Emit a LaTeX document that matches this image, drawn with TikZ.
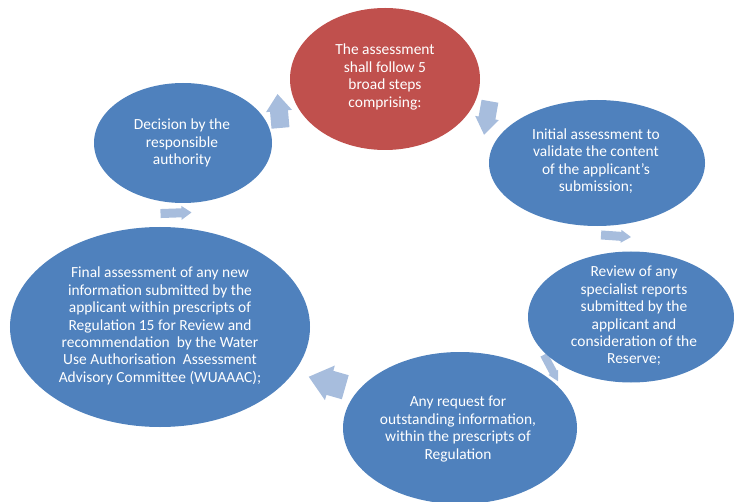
\documentclass[tikz,border=0pt]{standalone}
\usepackage{fontspec}
\setmainfont{Carlito}
\usetikzlibrary{shapes.geometric}

\definecolor{stepblue}{HTML}{4F81BD}
\definecolor{stepred}{HTML}{C0504D}
\definecolor{arrowblue}{HTML}{A7BDDD}

\tikzset{
  stage/.style={ellipse, fill=stepblue, draw=none, inner sep=0pt},
  leadstage/.style={stage, fill=stepred},
  stagetext/.style={text=white, align=center, inner sep=0pt,
    font=\fontsize{15.5}{17.5}\selectfont},
  flowarrow/.style={fill=arrowblue, draw=none},
}

% block arrow: centre, angle, length, head length, head width, shaft width
\newcommand\cyclearrow[6]{%
  \fill[flowarrow, shift={#1}, rotate=#2]
    ({-#3/2},{-#6/2}) -- ({#3/2-#4},{-#6/2}) -- ({#3/2-#4},{-#5/2})
    -- ({#3/2},0) -- ({#3/2-#4},{#5/2}) -- ({#3/2-#4},{#6/2})
    -- ({-#3/2},{#6/2}) -- cycle;}

\begin{document}
\begin{tikzpicture}[x=1bp, y=-1bp]
  \useasboundingbox (0,0) rectangle (734,502);
  \clip (0,0) rectangle (734,502);

  % arrow positions along the cycle
  \coordinate (a1) at (279,111);
  \coordinate (a2) at (487,118);
  \coordinate (a3) at (616,236);
  \coordinate (a4) at (551,368);
  \coordinate (a5) at (327,382);
  \coordinate (a6) at (176,213);

  \cyclearrow{(a1)}{95}{34}{17}{26}{18}
  \cyclearrow{(a2)}{-100}{34}{17}{24}{17}
  \cyclearrow{(a3)}{-4}{30}{10}{13}{9}
  \cyclearrow{(a4)}{-62}{30}{10}{11}{8}
  \cyclearrow{(a5)}{164}{38}{22}{36}{25}
  \cyclearrow{(a6)}{2}{31}{10}{14}{9}

  % the six stages
  \node[leadstage, minimum width=190bp, minimum height=142bp] (assess) at (385,79) {};
  \node[stage, minimum width=216bp, minimum height=126bp] (initial) at (597,163) {};
  \node[stage, minimum width=206bp, minimum height=131bp] (review) at (631,317) {};
  \node[stage, minimum width=234bp, minimum height=152bp] (request) at (460,428) {};
  \node[stage, minimum width=300bp, minimum height=200bp] (final) at (160,327) {};
  \node[stage, minimum width=178bp, minimum height=120bp] (decision) at (183,143) {};

  % stage texts
  \node[stagetext] (assess-t) at (385,77) {The assessment\\shall follow 5\\broad steps\\comprising:};
  \node[stagetext] (initial-t) at (596,161) {Initial assessment to\\validate the content\\of the applicant’s\\submission;};
  \node[stagetext] (review-t) at (634,316) {Review of any\\specialist reports\\submitted by the\\applicant and\\consideration of the\\Reserve;};
  \node[stagetext] (request-t) at (458,429) {Any request for\\outstanding information,\\within the prescripts of\\Regulation};
  \node[stagetext] (final-t) at (160,326) {Final assessment of any new\\information submitted by the\\applicant within prescripts of\\Regulation 15 for Review and\\recommendation\ \ by the Water\\Use Authorisation\ \ Assessment\\Advisory Committee (WUAAAC);};
  \node[stagetext] (decision-t) at (182,143) {Decision by the\\responsible\\authority};
\end{tikzpicture}
\end{document}
